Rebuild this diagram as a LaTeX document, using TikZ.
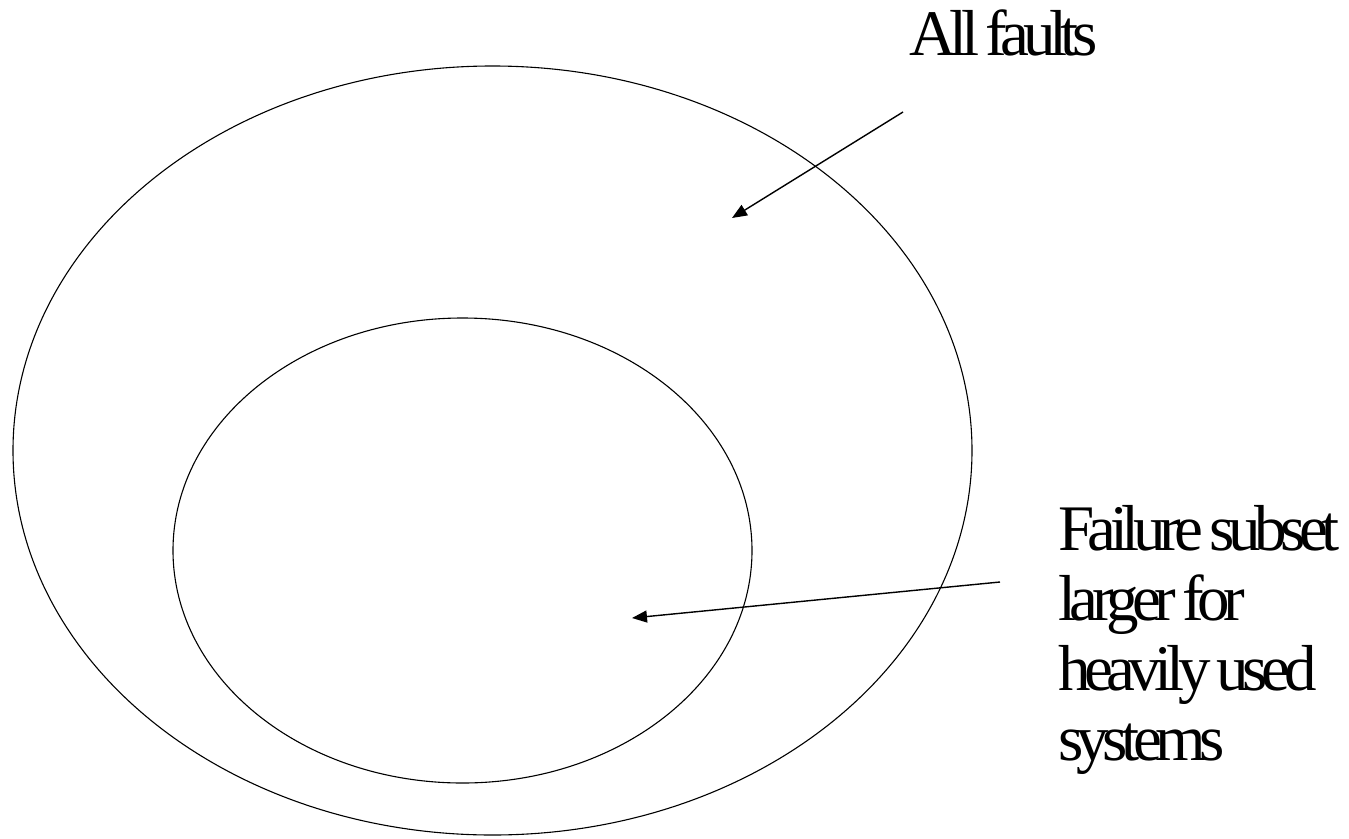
\documentclass[tikz,border=0pt]{standalone}
\usepackage{fontspec}
\newfontfamily\tnr[LetterSpace=-10,WordSpace=0.65]{Liberation Serif}
\usetikzlibrary{shapes.geometric,arrows.meta}
\begin{document}
\begin{tikzpicture}[x=1pt,y=-1pt,
  setshape/.style={draw=black, line width=1.1pt, ellipse, inner sep=0pt},
  lbl/.style={anchor=base west, inner sep=0pt, font=\tnr\fontsize{65}{70}\selectfont},
  arr/.style={draw=black, line width=1.4pt, -{Triangle[length=15pt,width=12pt]}}]
\useasboundingbox (0,0) rectangle (1349,838);
\node[setshape, minimum width=959pt, minimum height=769pt] (outer) at (492.5,450.5) {};
\node[setshape, minimum width=579pt, minimum height=465pt] (inner) at (462.5,550.5) {};
\node[lbl] (allfaults) at (909,55) {All faults};
\node[lbl] (f1) at (1058,550) {Failure subset};
\node[lbl] (f2) at (1058,620) {larger for};
\node[lbl] (f3) at (1058,690) {heavily used};
\node[lbl] (f4) at (1058,760) {systems};
\coordinate (a1s) at (903,112);
\coordinate (a1e) at (732,218);
\coordinate (a2s) at (1000,582);
\coordinate (a2e) at (632,618);
\draw[arr] (a1s) -- (a1e);
\draw[arr] (a2s) -- (a2e);
\end{tikzpicture}
\end{document}
